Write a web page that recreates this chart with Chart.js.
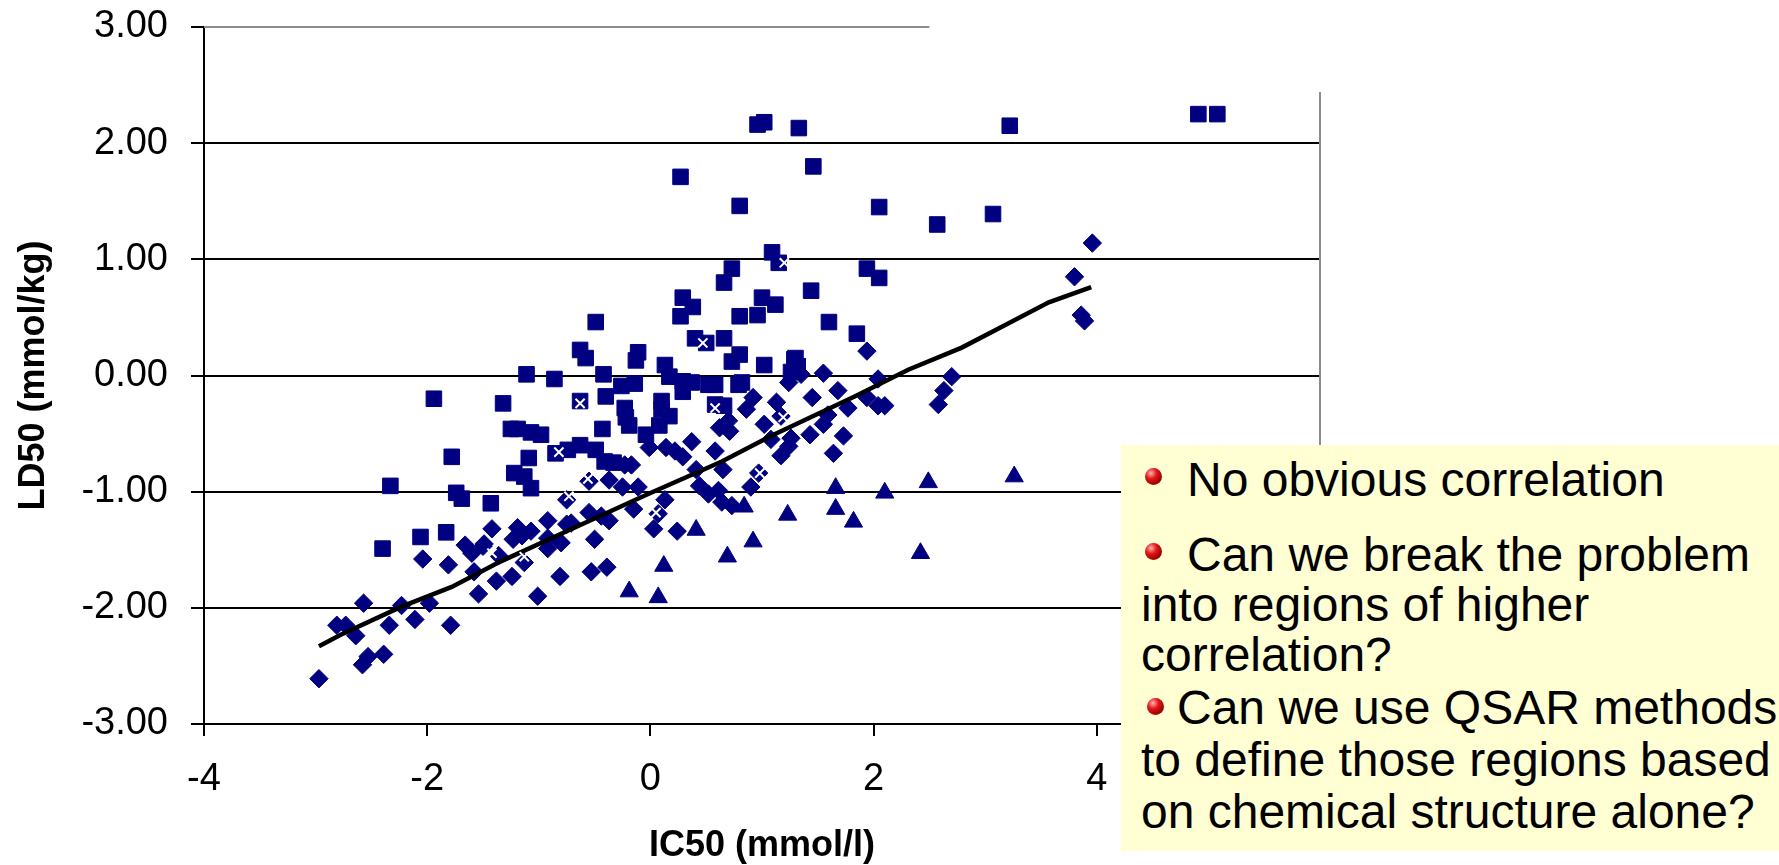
<!DOCTYPE html>
<html>
<head>
<meta charset="utf-8">
<title>LD50 vs IC50</title>
<script src="https://cdn.jsdelivr.net/npm/chart.js@4.4.1/dist/chart.umd.min.js"></script>
<style>
  html, body { margin: 0; padding: 0; background: #fff; overflow: hidden; }
  #wrap { position: absolute; left: 0; top: 0; width: 1779px; height: 865px; }
  #note {
    position: absolute; left: 1121px; top: 445px; width: 658px; height: 406px;
    background: #ffffd3;
    font-family: 'Liberation Sans', Arial, sans-serif; font-size: 48px; line-height: 48px; color: #000;
  }
  #note .ln { position: absolute; white-space: nowrap; }
  #note .dot {
    position: absolute; width: 17px; height: 17px; border-radius: 50%;
    background: radial-gradient(circle at 35% 30%, #ffb0b0 0%, #e01818 35%, #a00000 70%, #500000 100%);
  }
</style>
</head>
<body>
<div id="wrap"><canvas id="scatterChart"></canvas></div>

<!-- side note, page coords -->
<div id="note">
  <div class="dot" style="left:24px; top:23px;"></div>
  <div class="ln" style="left:66px; top:11px;">No obvious correlation</div>
  <div class="dot" style="left:24px; top:98px;"></div>
  <div class="ln" style="left:66px; top:86px;">Can we break the problem</div>
  <div class="ln" style="left:20px; top:136px;">into regions of higher</div>
  <div class="ln" style="left:20px; top:186px;">correlation?</div>
  <div class="dot" style="left:26px; top:253px;"></div>
  <div class="ln" style="left:56px; top:239px;">Can we use QSAR methods</div>
  <div class="ln" style="left:20px; top:291px;">to define those regions based</div>
  <div class="ln" style="left:20px; top:343px;">on chemical structure alone?</div>
</div>

<script>
// [IC50, LD50] pairs
const squarePts = [
  [0.96, 2.16], [1.02, 2.18], [1.33, 2.13], [0.27, 1.71], [1.46, 1.80], [0.80, 1.46], [2.05, 1.45],
  [3.22, 2.15], [2.57, 1.30], [3.07, 1.39], [4.91, 2.25], [5.08, 2.25],
  [1.09, 1.06], [1.15, 0.97], [0.73, 0.92], [0.66, 0.80], [1.94, 0.92], [2.05, 0.84], [1.44, 0.73],
  [0.29, 0.67], [0.38, 0.59], [0.27, 0.51], [1.00, 0.67], [1.12, 0.61], [0.96, 0.52], [0.80, 0.51],
  [-0.49, 0.46], [1.60, 0.46], [1.85, 0.36], [0.40, 0.32], [0.50, 0.28], [0.66, 0.32], [0.80, 0.18], [1.30, 0.15],
  [-0.63, 0.22], [-0.58, 0.15], [-0.11, 0.20], [-0.13, 0.13], [0.13, 0.09], [0.73, 0.12], [1.02, 0.09],
  [1.29, 0.14], [1.32, 0.08], [1.26, 0.03], [0.82, -0.06],
  [-1.11, 0.01], [-0.86, -0.03], [-0.42, 0.01], [-0.26, -0.09], [-0.14, -0.07], [0.17, -0.01], [0.29, -0.05],
  [0.29, -0.14], [0.37, -0.06], [0.52, -0.08], [0.58, -0.08], [0.79, -0.08],
  [-1.32, -0.24], [-0.63, -0.22], [-0.40, -0.18], [-0.23, -0.28], [-0.22, -0.36], [-0.19, -0.43], [0.10, -0.22],
  [0.10, -0.29], [0.17, -0.35], [0.08, -0.43], [-0.04, -0.51], [0.58, -0.25], [0.66, -0.26],
  [-1.25, -0.46], [-1.19, -0.46], [-1.07, -0.49], [-0.98, -0.51], [-0.43, -0.46], [-0.63, -0.60], [-0.85, -0.67],
  [-0.74, -0.64], [-0.49, -0.64], [-1.09, -0.71], [-1.22, -0.84], [-1.13, -0.87], [-1.07, -0.97], [-0.41, -0.74],
  [-0.33, -0.75],
  [-1.94, -0.20], [-1.78, -0.70], [-2.33, -0.95], [-1.74, -1.01], [-1.69, -1.06], [-1.43, -1.10], [-1.83, -1.35],
  [-2.06, -1.39], [-2.40, -1.49]
];

const diamondPts = [
  [-1.42, -1.32], [-1.66, -1.46], [-1.60, -1.53], [-1.50, -1.47], [-2.04, -1.58], [-1.81, -1.63], [-1.58, -1.69],
  [-1.38, -1.77], [-1.54, -1.88], [-2.57, -1.96], [-2.23, -1.98], [-1.98, -1.96], [-2.81, -2.15], [-2.73, -2.15],
  [-2.34, -2.15], [-2.11, -2.10], [-1.79, -2.15], [-2.64, -2.24], [-2.53, -2.42], [-2.58, -2.49], [-2.39, -2.40],
  [-2.97, -2.61],
  [-0.01, -0.62], [0.14, -0.62], [0.22, -0.65], [0.29, -0.70], [0.37, -0.57], [0.58, -0.65], [0.62, -0.45],
  [0.71, -0.48], [0.70, -0.39], [-0.23, -0.77], [-0.17, -0.77], [-0.37, -0.90], [-0.55, -0.91], [-0.25, -0.96],
  [-0.11, -0.96], [0.41, -0.81], [0.65, -0.81], [0.44, -0.95], [0.52, -1.02], [0.61, -0.99], [0.64, -1.09],
  [0.73, -1.12], [-0.75, -1.07], [-0.15, -1.15], [0.13, -1.07], [0.07, -1.19], [-0.55, -1.18], [-0.44, -1.21],
  [-0.37, -1.25], [-1.19, -1.31], [-1.07, -1.34], [-0.92, -1.25], [-0.75, -1.28], [-0.71, -1.27], [-1.23, -1.41],
  [-1.15, -1.38], [-0.92, -1.40], [-0.80, -1.44], [-0.92, -1.49], [-0.50, -1.41], [0.03, -1.32], [0.24, -1.34],
  [-1.49, -1.45], [-1.36, -1.55], [-1.13, -1.61], [-1.24, -1.73], [-0.81, -1.73], [-0.53, -1.69], [-0.39, -1.65],
  [-1.01, -1.90],
  [1.94, 0.21], [1.24, -0.06], [1.35, 0.01], [1.55, 0.02], [1.68, -0.13], [2.04, -0.03], [1.94, -0.19],
  [2.04, -0.26], [2.10, -0.26], [2.70, -0.01], [2.63, -0.13], [2.58, -0.25], [0.92, -0.19], [1.13, -0.23],
  [1.45, -0.19], [1.77, -0.28], [0.86, -0.29], [1.17, -0.35], [1.02, -0.42], [1.26, -0.54], [1.43, -0.51],
  [1.55, -0.42], [1.59, -0.34], [1.73, -0.52], [1.08, -0.55], [1.24, -0.61], [1.17, -0.69], [1.64, -0.67],
  [0.97, -0.84], [0.90, -0.96],
  [3.96, 1.14], [3.80, 0.85], [3.86, 0.52], [3.89, 0.47]
];

const trianglePts = [
  [0.41, -1.33], [0.69, -1.56], [0.12, -1.64], [-0.19, -1.86], [0.07, -1.91], [0.84, -1.13], [1.23, -1.20],
  [1.66, -0.97], [1.66, -1.15], [1.82, -1.26], [2.10, -1.01], [2.49, -0.92], [0.92, -1.43], [2.42, -1.53],
  [3.26, -0.87]
];

// white "x" markers, only visible where they sit on top of other marks
const crossPts = [
  [-1.42, -1.53], [-0.82, -0.66], [-0.63, -0.24], [-0.56, -0.89], [-0.73, -1.04], [-1.13, -1.56],
  [0.05, -1.18], [0.58, -0.28], [0.47, 0.28], [1.20, 0.97], [1.19, -0.36], [0.98, -0.84]
];

// fitted line
const fitPts = [
  [-2.97, -2.33], [-2.77, -2.23], [-2.23, -1.99], [-1.78, -1.82], [-1.34, -1.60], [-0.77, -1.35],
  [-0.02, -1.02], [0.64, -0.74], [1.08, -0.52], [1.83, -0.18], [2.31, 0.05], [2.79, 0.24],
  [3.15, 0.42], [3.57, 0.63], [3.95, 0.76]
];

const xRange = [-4, 6];
const yRange = [-3, 3];
const xTitle = 'IC50 (mmol/l)';
const yTitle = 'LD50 (mmol/kg)';

const NAVY = '#000080';
const FONT = "'Liberation Sans', Arial, sans-serif";

const toXY = arr => arr.map(p => ({ x: p[0], y: p[1] }));

// grey plot frame, partly hidden in the original
const frameLines = {
  id: 'frameLines',
  beforeDatasetsDraw(chart) {
    const { ctx, chartArea: a, scales: { x, y } } = chart;
    ctx.save();
    ctx.strokeStyle = '#8c8c8c';
    ctx.lineWidth = 2;
    ctx.beginPath();
    ctx.moveTo(a.left, a.top);
    ctx.lineTo(x.getPixelForValue(2.5), a.top);
    ctx.moveTo(a.right, y.getPixelForValue(2.44));
    ctx.lineTo(a.right, a.bottom);
    ctx.stroke();
    ctx.restore();
  }
};

new Chart(document.getElementById('scatterChart'), {
  type: 'scatter',
  data: {
    datasets: [
      { label: 'x', data: toXY(crossPts), pointStyle: 'crossRot', pointRadius: 6.5,
        borderColor: '#fff', pointBorderColor: '#fff', pointBorderWidth: 2, order: 0 },
      { label: 'fit', data: toXY(fitPts), showLine: true, borderColor: '#000', borderWidth: 4.5,
        pointRadius: 0, tension: 0, order: 1 },
      { label: 'diamonds', data: toXY(diamondPts), pointStyle: 'rectRot', pointRadius: 9.2,
        backgroundColor: NAVY, borderColor: NAVY, pointBorderWidth: 1, order: 2 },
      { label: 'squares', data: toXY(squarePts), pointStyle: 'rect', pointRadius: 11,
        backgroundColor: NAVY, borderColor: NAVY, pointBorderWidth: 1, order: 3 },
      { label: 'triangles', data: toXY(trianglePts), pointStyle: 'triangle', pointRadius: 10.5,
        backgroundColor: NAVY, borderColor: NAVY, pointBorderWidth: 1, order: 4 }
    ]
  },
  plugins: [frameLines],
  options: {
    responsive: true,
    maintainAspectRatio: false,
    animation: false,
    layout: { padding: { left: 0, top: 27, right: 459, bottom: 0 } },
    plugins: { legend: { display: false }, tooltip: { enabled: false } },
    scales: {
      x: {
        type: 'linear',
        min: xRange[0], max: xRange[1],
        afterFit(scale) { scale.height = 141; scale.paddingLeft = 0; scale.paddingRight = 0; },
        border: { color: '#000', width: 2 },
        grid: { drawOnChartArea: false, drawTicks: true, tickLength: 12, tickColor: '#000', lineWidth: 2 },
        ticks: { stepSize: 2, padding: 21, color: '#000', font: { family: FONT, size: 38 } },
        title: { display: true, text: xTitle, color: '#000', padding: { top: 0, bottom: 1 },
          font: { family: FONT, size: 36, weight: 'bold', lineHeight: 1 } }
      },
      y: {
        type: 'linear',
        min: yRange[0], max: yRange[1],
        afterFit(scale) { scale.width = 204; scale.paddingTop = 0; scale.paddingBottom = 0; },
        border: { color: '#000', width: 2 },
        grid: {
          color: c => (c.tick && (c.tick.value === yRange[1] || c.tick.value === yRange[0])) ? 'rgba(0,0,0,0)' : '#000',
          lineWidth: 2, tickLength: 13, tickColor: '#000'
        },
        ticks: { stepSize: 1, padding: 23, color: '#000', font: { family: FONT, size: 38 },
          callback: v => Number(v).toFixed(2) },
        title: { display: true, text: yTitle, color: '#000', padding: { top: 16, bottom: 0 },
          font: { family: FONT, size: 36, weight: 'bold', lineHeight: 1 } }
      }
    }
  }
});
</script>
</body>
</html>
